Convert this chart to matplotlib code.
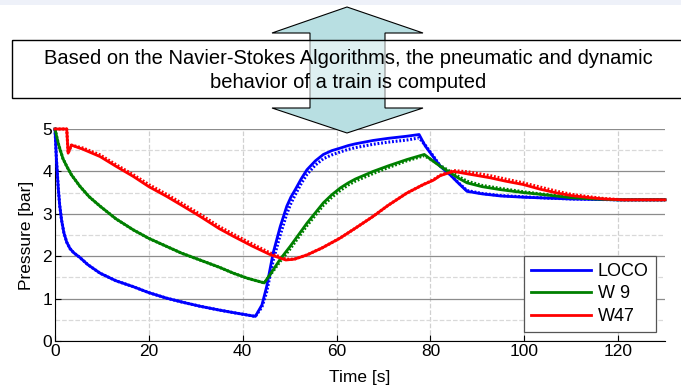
import matplotlib.pyplot as plt
from matplotlib.patches import Polygon, Rectangle

plt.rcParams['font.family'] = ['Liberation Sans', 'DejaVu Sans']

# LOCO (simulation + measurement)
loco_t = [0, 0.15, 0.3, 0.5, 0.7, 1.0, 1.4, 1.9, 2.5, 3.2, 4, 5.3, 7, 9.6, 13, 16.7,
          20, 23.8, 27, 30.9, 35, 38, 42.7, 44.1, 45.1, 46.5, 48, 49.4, 50.3, 51.2,
          52.5, 53.7, 55.5, 57.2, 59, 60.8, 62.5, 64, 67.8, 71, 75, 77.6, 78.9, 80.5,
          82.1, 84.2, 86, 87.8, 91, 95, 100, 105, 110, 115, 120, 125, 130]
loco_sim = [5.0, 4.65, 4.3, 3.95, 3.6, 3.2, 2.85, 2.55, 2.33, 2.18, 2.08, 1.97, 1.8,
            1.6, 1.42, 1.28, 1.14, 1.01, 0.92, 0.82, 0.73, 0.67, 0.58, 0.85, 1.28, 2.08,
            2.7, 3.18, 3.4, 3.57, 3.83, 4.04, 4.25, 4.4, 4.49, 4.55, 4.61, 4.65, 4.73,
            4.78, 4.83, 4.87, 4.6, 4.36, 4.12, 3.92, 3.72, 3.53, 3.47, 3.42, 3.39, 3.37,
            3.35, 3.34, 3.33, 3.33, 3.33]
loco_meas = [5.0, 4.65, 4.3, 3.95, 3.6, 3.2, 2.85, 2.55, 2.33, 2.18, 2.08, 1.97, 1.8,
             1.6, 1.42, 1.28, 1.14, 1.01, 0.92, 0.82, 0.73, 0.67, 0.58, 0.8, 1.15, 1.9,
             2.5, 3.0, 3.25, 3.45, 3.72, 3.93, 4.15, 4.3, 4.39, 4.46, 4.52, 4.56, 4.64,
             4.69, 4.74, 4.79, 4.62, 4.38, 4.13, 3.93, 3.73, 3.55, 3.48, 3.43, 3.4, 3.37,
             3.35, 3.34, 3.33, 3.33, 3.33]

# W 9
w9_t = [0, 0.3, 0.7, 1.07, 1.7, 2.5, 3.5, 5.3, 7.3, 9.6, 13, 16.7, 20, 23.8, 27, 30.9,
        35, 38, 41, 44.6, 46.5, 48, 50.1, 53.7, 57.2, 59, 60.8, 62.5, 64, 67.8, 71, 75,
        78.7, 80.6, 82.1, 84.2, 86, 87.8, 91, 94.9, 99.8, 103.4, 110, 115, 120, 125, 130]
w9_sim = [5.0, 4.85, 4.66, 4.52, 4.3, 4.12, 3.92, 3.65, 3.4, 3.18, 2.88, 2.62, 2.42,
          2.23, 2.07, 1.91, 1.74, 1.6, 1.48, 1.37, 1.68, 1.93, 2.23, 2.78, 3.26, 3.45,
          3.61, 3.73, 3.82, 4.0, 4.13, 4.28, 4.40, 4.24, 4.12, 3.97, 3.84, 3.73, 3.64,
          3.57, 3.5, 3.46, 3.38, 3.35, 3.33, 3.33, 3.33]
w9_meas = [5.0, 4.85, 4.66, 4.52, 4.3, 4.12, 3.92, 3.65, 3.4, 3.18, 2.88, 2.62, 2.42,
           2.23, 2.07, 1.91, 1.74, 1.6, 1.48, 1.37, 1.65, 1.88, 2.17, 2.72, 3.2, 3.39,
           3.55, 3.68, 3.77, 3.95, 4.09, 4.25, 4.37, 4.25, 4.14, 4.0, 3.88, 3.77, 3.67,
           3.6, 3.52, 3.47, 3.39, 3.35, 3.33, 3.33, 3.33]

# W47
w47_t = [0, 2.5, 2.8, 3.5, 6, 9.6, 13, 16.7, 20, 23.8, 27, 30.9, 35, 38, 42, 45.8,
         49.2, 51, 53.7, 57, 60.8, 64, 67.8, 71, 75, 78.5, 80.6, 82.1, 84.9, 88, 92.7,
         96, 99.8, 103.4, 107, 110, 114, 117, 121, 125, 130]
w47_sim = [5.0, 5.0, 4.43, 4.62, 4.52, 4.35, 4.12, 3.88, 3.64, 3.41, 3.2, 2.94, 2.65,
           2.47, 2.24, 2.04, 1.91, 1.93, 2.03, 2.2, 2.43, 2.66, 2.94, 3.2, 3.49, 3.69,
           3.79, 3.9, 4.0, 3.94, 3.85, 3.77, 3.69, 3.58, 3.49, 3.43, 3.38, 3.35, 3.33,
           3.33, 3.33]
w47_meas = [5.0, 5.0, 4.43, 4.62, 4.55, 4.39, 4.16, 3.92, 3.69, 3.46, 3.25, 2.99, 2.7,
            2.52, 2.29, 2.08, 1.93, 1.93, 2.03, 2.2, 2.43, 2.66, 2.94, 3.2, 3.49, 3.69,
            3.8, 3.91, 4.02, 3.99, 3.9, 3.82, 3.73, 3.63, 3.53, 3.46, 3.4, 3.36, 3.33,
            3.33, 3.33]

series = [('LOCO', '#0000ff', loco_t, loco_sim, loco_meas),
          ('W 9', '#008000', w9_t, w9_sim, w9_meas),
          ('W47', '#ff0000', w47_t, w47_sim, w47_meas)]

fig = plt.figure(figsize=(6.81, 3.87), dpi=100)
ax = fig.add_axes([55 / 681, 1 - 341 / 387, 610 / 681, 212 / 387])

for name, col, t, sim, meas in series:
    ax.plot(t, meas, color=col, lw=2.2, ls=(0, (0.6, 0.6)), zorder=3, clip_on=False)
    ax.plot(t, sim, color=col, lw=2.0, label=name, zorder=4, clip_on=False)

ax.set_xlim(0, 130)
ax.set_ylim(0, 5)
ax.set_xticks([0, 20, 40, 60, 80, 100, 120])
ax.set_yticks([0, 1, 2, 3, 4, 5])
ax.set_yticks([0.5, 1.5, 2.5, 3.5, 4.5], minor=True)
ax.tick_params(direction='in', length=4, labelsize=12.5, pad=2)
ax.tick_params(which='minor', length=0)
ax.grid(axis='y', which='major', color='#8c8c8c', lw=0.9, ls='-')
ax.grid(axis='y', which='minor', color='#d9d9d9', lw=0.9, ls='--')
ax.grid(axis='x', which='major', color='#d0d0d0', lw=0.9, ls='--')
for s in ['top', 'right']:
    ax.spines[s].set_visible(False)
ax.set_xlabel('Time [s]', fontsize=12.5, labelpad=8)
ax.set_ylabel('Pressure [bar]', fontsize=12.5, labelpad=6)

leg = ax.legend(loc='lower right', bbox_to_anchor=(0.985, 0.042), borderaxespad=0,
                fontsize=13, fancybox=False, framealpha=1, edgecolor='#555555',
                handlelength=3.3, handletextpad=0.4, labelspacing=0.3, borderpad=0.4)
leg.get_frame().set_linewidth(0.9)

# overlay: banner strip, double arrow and text box
ov = fig.add_axes([0, 0, 1, 1], zorder=10)
ov.set_xlim(0, 681)
ov.set_ylim(387, 0)
ov.axis('off')
ov.patch.set_alpha(0)

ov.add_patch(Rectangle((0, 0), 681, 5, color='#eef1f9', lw=0))
arrow = [(347, 7), (423, 33), (385, 33), (385, 108), (423, 108), (347, 133),
         (272, 108), (310, 108), (310, 33), (272, 33)]
ov.add_patch(Polygon(arrow, closed=True, facecolor='#b8dfe2', edgecolor='black', lw=0.8))
ov.add_patch(Rectangle((12, 40), 680, 58, facecolor='white', alpha=0.55, lw=0))
ov.add_patch(Rectangle((12, 40), 680, 58, facecolor='none', edgecolor='black', lw=1.0))
ov.text(348, 58, 'Based on the Navier-Stokes Algorithms, the pneumatic and dynamic',
        ha='center', va='center', fontsize=14.5)
ov.text(348, 82, 'behavior of a train is computed', ha='center', va='center', fontsize=14.5)

fig.savefig('out.png', dpi=100)
